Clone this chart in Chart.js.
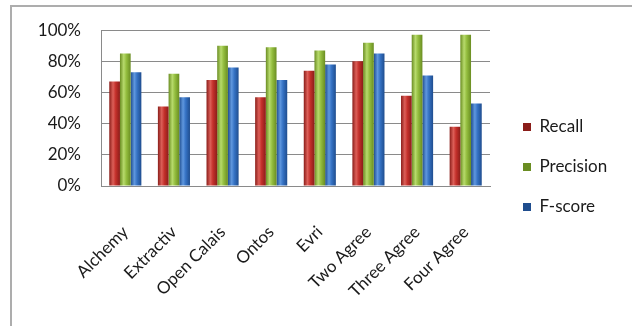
<!DOCTYPE html>
<html>
<head>
<meta charset="utf-8">
<script src="https://cdn.jsdelivr.net/npm/chart.js@4/dist/chart.umd.min.js"></script>
<style>
  html, body { margin: 0; padding: 0; background: #fff; }
  #wrap { position: relative; width: 632px; height: 326px; overflow: hidden; }
  #frame { position: absolute; left: 10px; top: 5px; width: 700px; height: 400px;
           border: 2px solid #adadad; box-sizing: border-box; pointer-events: none; }
  canvas { position: absolute; left: 0; top: 0; }
</style>
</head>
<body>
<div id="wrap">
  <canvas id="chart" width="632" height="326"></canvas>
  <div id="frame"></div>
</div>
<script>
const categories = ["Alchemy", "Extractiv", "Open Calais", "Ontos", "Evri", "Two Agree", "Three Agree", "Four Agree"];
const recall    = [67, 51, 68, 57, 74, 80, 58, 38];
const precision = [85, 72, 90, 89, 87, 92, 97, 97];
const fscore    = [73, 57, 76, 68, 78, 85, 71, 53];
const yTicks = [0, 20, 40, 60, 80, 100];

const W = 632;
const CAT_PCT = 0.66;
const LEGEND_LEFT = 500;

// base, dark edge, light highlight
const palette = [
  ["#c4302b", "#8a1d19", "#dc5f58"],
  ["#93bd3e", "#6a8d22", "#b7da6c"],
  ["#3572c4", "#1f4d8e", "#5f97de"],
];

// cylinder-ish shading, bar position taken from the x scale
function barFill(ctx) {
  const [base, dark, light] = palette[ctx.datasetIndex];
  if (ctx.type !== "data") return base;
  const chart = ctx.chart;
  const xs = chart.scales.x;
  if (!xs || !chart.chartArea) return base;
  const catW = xs.width / categories.length;
  const groupW = catW * CAT_PCT;
  const bw = groupW / 3;
  const left = xs.getPixelForValue(ctx.dataIndex) - groupW / 2 + ctx.datasetIndex * bw;
  const g = chart.ctx.createLinearGradient(left, 0, left + bw, 0);
  g.addColorStop(0, dark);
  g.addColorStop(0.35, light);
  g.addColorStop(0.6, base);
  g.addColorStop(1, dark);
  return g;
}

function makeSet(label, data) {
  return {
    label: label,
    data: data,
    backgroundColor: barFill,
    borderWidth: 0,
    categoryPercentage: CAT_PCT,
    barPercentage: 1.0,
  };
}

const font = { family: "Lato, 'Open Sans', sans-serif", size: 17 };

const chart = new Chart(document.getElementById("chart"), {
  type: "bar",
  data: {
    labels: categories,
    datasets: [
      makeSet("Recall", recall),
      makeSet("Precision", precision),
      makeSet("F-score", fscore),
    ],
  },
  options: {
    responsive: false,
    animation: false,
    layout: { padding: { left: 0, top: 30, right: 20, bottom: 22 } },
    scales: {
      x: {
        grid: { display: false, drawTicks: false },
        border: { display: true, color: "#8a8a8a", width: 1 },
        ticks: { color: "#1a1a1a", font: font, minRotation: 45, maxRotation: 45, padding: 36, autoSkip: false },
        afterFit: (s) => { s.height = 118; },
      },
      y: {
        min: 0,
        max: 100,
        afterBuildTicks: (s) => { s.ticks = yTicks.map(v => ({ value: v })); },
        grid: { color: "#8a8a8a", lineWidth: 1, drawTicks: false },
        border: { display: true, color: "#8a8a8a", width: 1 },
        ticks: { color: "#1a1a1a", font: font, padding: 20, callback: (v) => v + "%" },
        afterFit: (s) => { s.width = 101; },
      },
      spacer: {
        position: "right",
        display: true,
        grid: { display: false, drawTicks: false },
        border: { display: false },
        ticks: { display: false },
        afterFit: (s) => { s.width = LEGEND_LEFT - 490; },
      },
    },
    plugins: {
      legend: {
        position: "right",
        align: "center",
        maxWidth: 200,
        labels: { boxWidth: 8, boxHeight: 8, padding: 23, color: "#1a1a1a", font: font },
      },
      tooltip: { enabled: false },
    },
  },
});

// legend width is only known after the first layout
chart.options.layout.padding.right = Math.max(0, W - LEGEND_LEFT - chart.legend.width);
chart.update();
</script>
</body>
</html>
